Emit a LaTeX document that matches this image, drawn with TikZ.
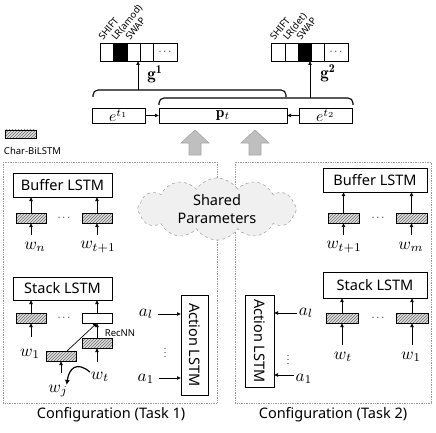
\documentclass[tikz,border=0pt]{standalone}
\usepackage{fontspec}
\setsansfont{Noto Sans}
\usetikzlibrary{patterns,shapes.symbols,arrows.meta,calc}
\newcommand{\mathlbl}[1]{\scalebox{1.7}{$#1$}}
\begin{document}
\begin{tikzpicture}[x=1pt,y=-1pt,
  every node/.style={inner sep=0pt,outer sep=0pt},
  sbox/.style={draw,line width=0.8pt,font=\sffamily\fontsize{14.5}{16}\selectfont},
  hbox/.style={draw,line width=0.6pt,minimum width=30pt,minimum height=10pt,preaction={fill=gray!25},pattern=north east lines,pattern color=gray!85!black},
  wbox/.style={draw,line width=0.6pt,minimum width=30pt,minimum height=10pt,fill=white},
  mlab/.style={font=\fontsize{10}{12}\selectfont},
  arr/.style={-{Latex[length=4pt,width=4pt]},line width=0.7pt},
  cell/.style={draw,line width=0.8pt,minimum height=18pt},
  act/.style={font=\sffamily\fontsize{9.5}{10}\selectfont,rotate=51,anchor=base west},
  cfg/.style={draw=gray!80,densely dotted,line width=0.7pt},
  brace/.style={line width=1.1pt,rounded corners=5pt},
  garrow/.style={fill=gray!50,draw=gray!70,line width=0.6pt},
  dots/.style={font=\fontsize{11}{12}\selectfont},
  cfglab/.style={font=\sffamily\fontsize{14.5}{16}\selectfont},
  smalllab/.style={font=\sffamily\fontsize{9.5}{10}\selectfont},
]
\useasboundingbox (0,0) rectangle (436,433);

% configuration frames
\draw[cfg] (3,162) rectangle (217,403);
\draw[cfg] (235,162) rectangle (431,403);

% gray block arrows
\foreach \cx in {195,255}
  \draw[garrow] (\cx,130) -- (\cx+14,143) -- (\cx+6,143) -- (\cx+6,155) -- (\cx-6,155) -- (\cx-6,143) -- (\cx-14,143) -- cycle;

% shared parameters cloud
\node[cloud,cloud puffs=12,cloud puff arc=115,cloud ignores aspect,draw=gray!70,dashed,fill=gray!12,
      minimum width=159pt,minimum height=62pt,line width=0.6pt,align=center,
      font=\sffamily\bfseries\fontsize{14.5}{18}\selectfont] (cloud) at (217,209) {Shared\\Parameters};

% legend
\node[hbox,minimum width=31pt,minimum height=8pt] (leg) at (20.5,134) {};
\node[smalllab,anchor=west] (legt) at (4,151) {Char-BiLSTM};

% ---------- top: output vectors ----------
\node[cell,minimum width=13pt] (c11) at (106.5,52) {};
\node[cell,minimum width=14pt,fill=black] (c12) at (120,52) {};
\node[cell,minimum width=13pt] (c13) at (133.5,52) {};
\node[cell,minimum width=13pt] (c14) at (146.5,52) {};
\node[cell,minimum width=24pt,dots] (c15) at (165,52) {$\cdots$};
\node[act] (l11) at (103,41) {SHIFT};
\node[act] (l12) at (116,41) {LR(amod)};
\node[act] (l13) at (130,41) {SWAP};

\node[cell,minimum width=14pt] (c21) at (278,52) {};
\node[cell,minimum width=13pt] (c22) at (291.5,52) {};
\node[cell,minimum width=13pt,fill=black] (c23) at (304.5,52) {};
\node[cell,minimum width=13pt] (c24) at (317.5,52) {};
\node[cell,minimum width=24pt,dots] (c25) at (336,52) {$\cdots$};
\node[act] (l21) at (274.5,41) {SHIFT};
\node[act] (l22) at (287.5,41) {LR(det)};
\node[act] (l23) at (301,41) {SWAP};

\node[mlab] (g1) at (155,74) {\scalebox{1.7}{$\mathbf{g}^{\mathbf{1}}$}};
\node[mlab] (g2) at (328,73) {\scalebox{1.7}{$\mathbf{g}^{\mathbf{2}}$}};

% braces
\draw[brace] (93,97) |- (190,90) -| (286,97);
\draw[brace] (159,105) |- (250,98) -| (353,105);
\coordinate (b1) at (138,90);
\coordinate (b2) at (310,98);
\draw[arr] (b1) -- (b1 |- c13.south);
\draw[arr] (b2) -- (b2 |- c23.south);

% e, p boxes
\node[draw,line width=0.8pt,minimum width=53pt,minimum height=15pt,mlab] (e1) at (118.5,115.5) {\scalebox{1.55}{$e^{t_1}$}};
\node[draw,line width=0.8pt,minimum width=128pt,minimum height=15pt,mlab] (pt) at (223,115.5) {\scalebox{1.55}{$\mathbf{p}_t$}};
\node[draw,line width=0.8pt,minimum width=53pt,minimum height=15pt,mlab] (e2) at (325.5,115.5) {\scalebox{1.55}{$e^{t_2}$}};
\draw[arr] (e1.east) -- (pt.west);
\draw[arr] (e2.west) -- (pt.east);

% ---------- Task 1 ----------
\node[sbox,minimum width=99pt,minimum height=24pt] (lbuf) at (62.5,185) {Buffer LSTM};
\node[hbox] (lh1) at (31,218) {};
\node[hbox] (lh2) at (97,218) {};
\node[dots] (ld1) at (64,218) {$\cdots$};
\node[mlab] (lwn) at (35,247) {\mathlbl{w_n}};
\node[mlab] (lwt1) at (98,247) {\mathlbl{w_{t+1}}};
\draw[arr] (lh1.north) -- (lh1.north |- lbuf.south);
\draw[arr] (lh2.north) -- (lh2.north |- lbuf.south);
\draw[arr] ($(lh1.south)+(0,12)$) -- (lh1.south);
\draw[arr] ($(lh2.south)+(0,12)$) -- (lh2.south);

\node[sbox,minimum width=99pt,minimum height=23pt] (lstack) at (62.5,288.5) {Stack LSTM};
\node[hbox] (ls1) at (31,318) {};
\node[wbox] (ls2) at (97,318) {};
\node[dots] (ld2) at (64,318) {$\cdots$};
\draw[arr] (ls1.north) -- (ls1.north |- lstack.south);
\draw[arr] (ls2.north) -- (ls2.north |- lstack.south);
\node[mlab] (lw1) at (30,354) {\mathlbl{w_1}};
\draw[arr] ($(ls1.south)+(0,14)$) -- (ls1.south);
\node[hbox] (lrec) at (97,343) {};
\node[smalllab] (recnn) at (120,333) {RecNN};
\draw[arr] (lrec.north) -- (ls2.south);
\node[hbox] (lwjb) at (61,356) {};
\draw[arr] ($(lwjb.north)+(6,0)$) -- (ls2.south);
\draw[arr] ($(lwjb.south)+(0,12)$) -- (lwjb.south);
\node[mlab] (lwj) at (58,391) {\mathlbl{w_j}};
\node[mlab] (lwt) at (100,377) {\mathlbl{w_t}};
\draw[arr] ($(lrec.south)+(0,14)$) -- (lrec.south);
\draw[-{Latex[length=5pt,width=5pt]},line width=1.2pt] ($(lwt.north west)+(-1,0)$) .. controls (77,361) and (69,368) .. ($(lwj.north east)+(-1,0)$);

\node[draw,line width=0.8pt,minimum width=27pt,minimum height=100pt] (lact) at (194.5,345) {};
\node[cfglab,rotate=-90] (lactt) at (lact.center) {Action LSTM};
\node[mlab] (lal) at (146,314) {\mathlbl{a_l}};
\node[mlab] (la1) at (146,379) {\mathlbl{a_1}};
\node[dots] (lvd) at (165,350) {$\vdots$};
\draw[arr] ($(lal.east)+(5,0)$) -- (lact.west |- lal.east);
\draw[arr] ($(la1.east)+(5,-1)$) -- ($(lact.west |- la1.east)+(0,-1)$);

% ---------- Task 2 ----------
\node[sbox,minimum width=104pt,minimum height=24pt] (rbuf) at (375,180) {Buffer LSTM};
\node[hbox,minimum width=31pt] (rh1) at (343.5,218) {};
\node[hbox,minimum width=31pt] (rh2) at (411.5,218) {};
\node[dots] (rd1) at (378,218) {$\cdots$};
\node[mlab] (rwt1) at (344,247) {\mathlbl{w_{t+1}}};
\node[mlab] (rwm) at (411,247) {\mathlbl{w_m}};
\draw[arr] (rh1.north) -- (rh1.north |- rbuf.south);
\draw[arr] (rh2.north) -- (rh2.north |- rbuf.south);
\draw[arr] ($(rh1.south)+(0,12)$) -- (rh1.south);
\draw[arr] ($(rh2.south)+(0,12)$) -- (rh2.south);

\node[sbox,minimum width=104pt,minimum height=26pt] (rstack) at (375,285) {Stack LSTM};
\node[hbox,minimum width=32pt] (rs1) at (342,318) {};
\node[hbox,minimum width=32pt] (rs2) at (412,318) {};
\node[dots] (rd2) at (378,318) {$\cdots$};
\draw[arr] (rs1.north) -- (rs1.north |- rstack.south);
\draw[arr] (rs2.north) -- (rs2.north |- rstack.south);
\draw[arr] ($(rs1.south)+(0,22)$) -- (rs1.south);
\draw[arr] ($(rs2.south)+(0,22)$) -- (rs2.south);
\node[mlab] (rwt) at (343,357) {\mathlbl{w_t}};
\node[mlab] (rw1) at (411,357) {\mathlbl{w_1}};

\node[draw,line width=0.8pt,minimum width=29pt,minimum height=92pt] (ract) at (259.5,341) {};
\node[cfglab,rotate=-90] (ractt) at (ract.center) {Action LSTM};
\node[mlab] (ral) at (306,313) {\mathlbl{a_l}};
\node[mlab] (ra1) at (304,379) {\mathlbl{a_1}};
\node[dots] (rvd) at (288,357) {$\vdots$};
\draw[arr] ($(ral.west)+(-2,0)$) -- (ract.east |- ral.west);
\draw[arr] ($(ra1.west)+(-2,-4)$) -- ($(ract.east |- ra1.west)+(0,-4)$);

% captions
\node[cfglab] (cap1) at (111,415) {Configuration (Task 1)};
\node[cfglab] (cap2) at (333,415) {Configuration (Task 2)};
\end{tikzpicture}
\end{document}
